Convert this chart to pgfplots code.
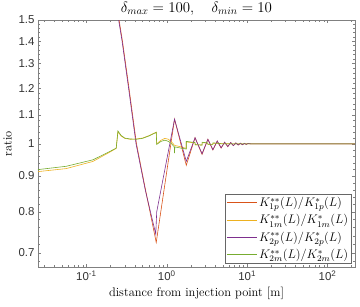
\RequirePackage{fix-cm}
\documentclass[border=0pt]{standalone}
\usepackage{pgfplots}
\pgfplotsset{compat=1.18}
\usepackage{fontspec}
\newfontfamily\ticksf{Liberation Sans}
\definecolor{c1}{rgb}{0.850,0.325,0.098}
\definecolor{c2}{rgb}{0.929,0.694,0.125}
\definecolor{c3}{rgb}{0.494,0.184,0.556}
\definecolor{c4}{rgb}{0.466,0.674,0.188}
\begin{document}
\begin{tikzpicture}
\begin{axis}[
  scale only axis, width=317bp, height=247bp,
  xmode=log, ymode=log,
  xmin=0.025, xmax=220, ymin=0.668, ymax=1.5,
  xtick={0.1,1,10,100},
  xticklabels={10\textsuperscript{-1},10\textsuperscript{0},10\textsuperscript{1},10\textsuperscript{2}},
  minor xtick={0.03,0.04,0.05,0.06,0.07,0.08,0.09,0.2,0.3,0.4,0.5,0.6,0.7,0.8,0.9,2,3,4,5,6,7,8,9,20,30,40,50,60,70,80,90,200},
  ytick={0.7,0.8,0.9,1,1.1,1.2,1.3,1.4,1.5},
  yticklabels={0.7,0.8,0.9,1,1.1,1.2,1.3,1.4,1.5},
  minor ytick={0.68,0.72,0.74,0.76,0.78,0.82,0.84,0.86,0.88,0.92,0.94,0.96,0.98,1.02,1.04,1.06,1.08,1.12,1.14,1.16,1.18,1.22,1.24,1.26,1.28,1.32,1.34,1.36,1.38,1.42,1.44,1.46,1.48},
  tick align=inside, major tick length=3.5bp, minor tick length=1.8bp,
  axis line style={black!50}, every tick/.style={black!50, line width=0.4pt},
  ticklabel style={font=\ticksf\fontsize{11.5}{13}\selectfont, text=black!80},
  xlabel={distance from injection point [m]}, ylabel={ratio},
  label style={font=\fontsize{12.5}{14}\selectfont},
  title={$\delta_{max}=100, \quad \delta_{min}=10$},
  title style={font=\fontsize{15}{17}\selectfont, anchor=base, at={(0.5,1)}, yshift=1.3bp},
  legend pos=south east, legend cell align=left,
  legend style={draw=black!60, font=\fontsize{12.5}{15}\selectfont, inner sep=1.5pt, row sep=2.5bp, at={(0.99,0.013)}, anchor=south east},
  legend image code/.code={\draw[#1] (0bp,0bp) -- (30bp,0bp);},
  every axis plot/.append style={line width=0.6pt},
]
\addplot[c1] coordinates {(0.2,3) (0.255,1.5) (0.281,1.4) (0.339,1.2) (0.42,1.0) (0.55,0.855) (0.74,0.724) (1.25,1.084) (1.75,0.932) (2.25,1.02) (2.75,0.966) (3.25,1.015) (3.75,0.980) (4.25,1.009) (4.75,0.986) (5.25,1.005) (5.75,0.991) (6.25,1.004) (6.75,0.994) (7.25,1.003) (7.75,0.996) (8.25,1.002) (8.75,0.997) (9.25,1.0015) (9.75,0.998) (10.25,1.001) (11,1) (250,1)};
\addlegendentry{$K^{**}_{1p}(L)/K^{*}_{1p}(L)$}
\addplot[c2] coordinates {(0.025,0.913) (0.056,0.922) (0.121,0.944) (0.195,0.973) (0.235,0.985) (0.247,1.04) (0.27,1.026) (0.3,1.018) (0.35,1.015) (0.42,1.016) (0.5,1.019) (0.6,1.027) (0.74,1.039) (0.75,1.0) (0.85,1.012) (0.95,1.018) (1.05,1.015) (1.15,1.006) (1.25,0.995) (1.5,0.99) (1.75,0.985) (1.75,1.006) (2.25,1.003) (2.25,0.997) (2.75,0.996) (2.75,1.004) (3.25,1.002) (3.25,0.998) (3.75,0.998) (3.75,1.002) (4.5,1.001) (6,1) (250,1)};
\addlegendentry{$K^{**}_{1m}(L)/K^{*}_{1m}(L)$}
\addplot[c3] coordinates {(0.2,3) (0.252,1.5) (0.278,1.4) (0.335,1.2) (0.415,1.0) (0.54,0.86) (0.73,0.744) (0.75,0.80) (1.25,1.084) (1.75,0.944) (2.25,1.02) (2.75,0.968) (3.25,1.015) (3.75,0.981) (4.25,1.009) (4.75,0.987) (5.25,1.005) (5.75,0.991) (6.25,1.004) (6.75,0.994) (7.25,1.003) (7.75,0.996) (8.25,1.002) (8.75,0.997) (9.25,1.0015) (9.75,0.998) (10.25,1.001) (11,1) (250,1)};
\addlegendentry{$K^{**}_{2p}(L)/K^{*}_{2p}(L)$}
\addplot[c4] coordinates {(0.025,0.919) (0.056,0.929) (0.121,0.949) (0.195,0.975) (0.235,0.986) (0.247,1.043) (0.27,1.028) (0.3,1.019) (0.35,1.016) (0.42,1.015) (0.5,1.018) (0.6,1.026) (0.74,1.038) (0.75,0.998) (0.85,1.008) (0.95,1.012) (1.05,1.008) (1.15,1.0) (1.24,0.99) (1.25,0.97) (1.26,0.99) (1.5,0.986) (1.75,0.983) (1.75,1.008) (2.25,1.004) (2.25,0.997) (2.75,0.996) (2.75,1.005) (3.25,1.003) (3.25,0.998) (3.75,0.998) (3.75,1.003) (4.25,1.002) (4.75,1.0) (250,1)};
\addlegendentry{$K^{**}_{2m}(L)/K^{*}_{2m}(L)$}
\end{axis}
\pgfresetboundingbox
\path (-38bp,-40bp) rectangle (322bp,267bp);
\end{tikzpicture}
\end{document}
